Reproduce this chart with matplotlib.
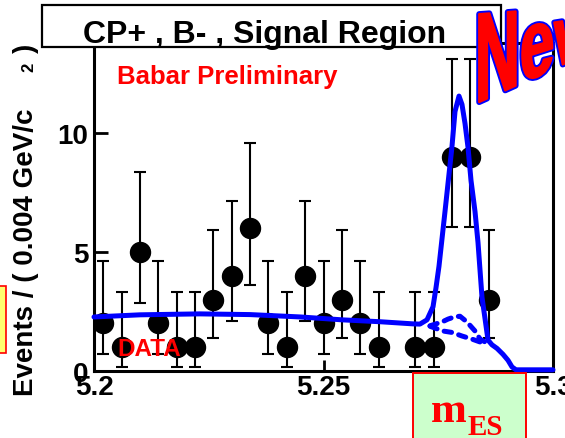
import matplotlib
matplotlib.use("Agg")
import numpy as np
import matplotlib.pyplot as plt
from matplotlib.patches import Rectangle, PathPatch
from matplotlib.path import Path
from matplotlib.textpath import TextPath
from matplotlib.font_manager import FontProperties
from matplotlib.transforms import IdentityTransform

W, H, DPI = 565, 439, 100

# data points (bins of 0.004 GeV/c2, empty bins have no marker)
bin_centers = [5.202, 5.206, 5.210, 5.214, 5.218, 5.222, 5.226, 5.230,
               5.234, 5.238, 5.242, 5.246, 5.250, 5.254, 5.258, 5.262,
               5.270, 5.274, 5.278, 5.282, 5.286]
counts = [2, 1, 5, 2, 1, 1, 3, 4, 6, 2, 1, 4, 2, 3, 2, 1, 1, 1, 9, 9, 3]
err_low = [1.29, 0.83, 2.16, 1.29, 0.83, 0.83, 1.63, 1.91, 2.38, 1.29, 0.83,
           1.91, 1.29, 1.63, 1.29, 0.83, 0.83, 0.83, 2.94, 2.94, 1.63]
err_high = [2.64, 2.30, 3.38, 2.64, 2.30, 2.30, 2.92, 3.16, 3.58, 2.64, 2.30,
            3.16, 2.64, 2.92, 2.64, 2.30, 2.30, 2.30, 4.11, 4.11, 2.92]

# total fit curve
fit_x = [5.2000, 5.2100, 5.2230, 5.2340, 5.2450, 5.2540, 5.2623, 5.2695,
         5.2710, 5.27255, 5.27386, 5.27451, 5.27516, 5.27647, 5.27800,
         5.27865, 5.27952, 5.28017, 5.28083, 5.28148, 5.28214, 5.28301,
         5.28366, 5.28453, 5.28519, 5.28584, 5.28671, 5.28780, 5.28911,
         5.29020, 5.29107, 5.29194, 5.3000]
fit_y = [2.27, 2.36, 2.40, 2.37, 2.27, 2.15, 2.07, 1.98,
         1.97, 2.15, 2.70, 3.50, 4.40, 6.70, 9.45,
         10.90, 11.55, 11.20, 10.40, 9.40, 8.00, 6.70,
         5.40, 3.10, 2.20, 1.30, 1.10, 0.95, 0.70,
         0.45, 0.17, 0.05, 0.05]

# dashed components
peak_x = [5.2732, 5.27582, 5.27712, 5.27865, 5.27974, 5.28126, 5.28301,
          5.28410, 5.28540]
peak_y = [1.90, 2.06, 2.18, 2.28, 2.30, 2.06, 1.68, 1.34, 1.20]
bkg_x = [5.2732, 5.27603, 5.27800, 5.28017, 5.28235, 5.28410, 5.28540]
bkg_y = [1.88, 1.68, 1.62, 1.47, 1.34, 1.22, 1.12]

x_ticks = [5.2, 5.25, 5.3]
x_tick_labels = ["5.2", "5.25", "5.3"]
y_ticks = [0, 5, 10]
y_tick_labels = ["0", "5", "10"]

SANS = "Liberation Sans"
SERIF = "Liberation Serif"


def fx(px):
    return px / W


def fy(py):
    return 1 - py / H


def draw_plot(ax):
    """
    Data points, fit curve and its dashed components
    """
    ax.errorbar(bin_centers, counts, yerr=[err_low, err_high], fmt="o",
                color="black", ms=14.4, elinewidth=1.5, capsize=4.3,
                capthick=1.5, zorder=3)
    ax.plot(fit_x, fit_y, color="#0000ff", lw=3.6, zorder=4,
            solid_capstyle="round", clip_on=False)
    for xs, ys in ((peak_x, peak_y), (bkg_x, bkg_y)):
        ax.plot(xs, ys, color="#0000ff", lw=3.6, zorder=4,
                linestyle=(0, (1.5, 1.5)), dash_capstyle="round")

    ax.set_xlim(5.2, 5.3)
    ax.set_ylim(0, 13.78)
    ax.set_xticks(x_ticks)
    ax.set_xticklabels(x_tick_labels)
    ax.set_yticks(y_ticks)
    ax.set_yticklabels(y_tick_labels)
    for lab in ax.get_xticklabels() + ax.get_yticklabels():
        lab.set_fontfamily(SANS)
        lab.set_fontweight("bold")
        lab.set_fontsize(20)
    ax.tick_params(axis="y", direction="in", length=10, width=2, pad=4)
    ax.tick_params(axis="x", direction="in", length=8, width=2, pad=2)
    for s in ax.spines.values():
        s.set_linewidth(2.2)

    ax.text(0.050, 0.050, "DATA", transform=ax.transAxes, color="red",
            fontsize=17.5, fontweight="bold", family=SANS, zorder=6)


def new_stamp(fig):
    """
    WordArt-like "New": baseline rising to the right, letters shrinking
    """
    prop = FontProperties(family=SANS, weight="bold")
    path = TextPath((0, 0), "New", size=135, prop=prop)
    u, v = path.vertices[:, 0], path.vertices[:, 1]
    cap = 0.729 * 135
    px = 475 + 0.46 * u
    base = 105 - 0.45 * (px - 475)
    height = 95 - 0.4 * (px - 475)
    py = base - v / cap * height
    stamp = Path(np.column_stack([px, H - py]), path.codes)
    # blue rim first, then a slightly fattened red body on top
    fig.add_artist(PathPatch(stamp, transform=IdentityTransform(),
                             facecolor="#0000ff", edgecolor="#0000ff",
                             lw=4.2, joinstyle="round", zorder=7))
    fig.add_artist(PathPatch(stamp, transform=IdentityTransform(),
                             facecolor="red", edgecolor="red",
                             lw=1.5, joinstyle="round", zorder=8))


def decorate(fig):
    """
    Boxes and labels around the axes
    """
    # title box
    fig.add_artist(Rectangle((fx(42), fy(48)), fx(501) - fx(42),
                             fy(6) - fy(48), transform=fig.transFigure,
                             facecolor="white", edgecolor="black", lw=1.6,
                             zorder=5))
    fig.text(fx(265), fy(42.5), "CP+ , B- , Signal Region", ha="center",
             va="baseline", fontsize=23, fontweight="bold", family=SANS,
             zorder=6)
    fig.text(fx(117), fy(84), "Babar Preliminary", ha="left",
             va="baseline", fontsize=18.5, fontweight="bold", family=SANS,
             color="red", zorder=6)

    # y label
    fig.text(fx(26), fy(252), "Events / ( 0.004 GeV/c", rotation=90,
             ha="center", va="center", fontsize=20, fontweight="bold",
             family=SANS)
    fig.text(fx(29), fy(67), "2", rotation=90, ha="center", va="center",
             fontsize=12, fontweight="bold", family=SANS)
    fig.text(fx(26), fy(48), ")", rotation=90, ha="center", va="center",
             fontsize=20, fontweight="bold", family=SANS)

    # yellow box at the left edge
    fig.add_artist(Rectangle((fx(-2), fy(354)), fx(8), fy(287) - fy(354),
                             transform=fig.transFigure, facecolor="#ffff70",
                             edgecolor="red", lw=1.2, zorder=5))

    # m_ES box
    fig.add_artist(Rectangle((fx(413), fy(445)), fx(526) - fx(413),
                             fy(374) - fy(445), transform=fig.transFigure,
                             facecolor="#ccffcc", edgecolor="red", lw=1.4,
                             zorder=5))
    fig.text(fx(431), fy(422), "m", ha="left", va="baseline", fontsize=31,
             fontweight="bold", family=SERIF, color="red", zorder=6)
    fig.text(fx(468), fy(435), "ES", ha="left", va="baseline", fontsize=21,
             fontweight="bold", family=SERIF, color="red", zorder=6)

    new_stamp(fig)


def main():
    fig = plt.figure(figsize=(W / DPI, H / DPI), dpi=DPI)
    ax = fig.add_axes([fx(94), fy(372), fx(553) - fx(94), fy(44) - fy(372)])
    draw_plot(ax)
    decorate(fig)
    fig.savefig("out.png", dpi=DPI)


if __name__ == "__main__":
    main()
